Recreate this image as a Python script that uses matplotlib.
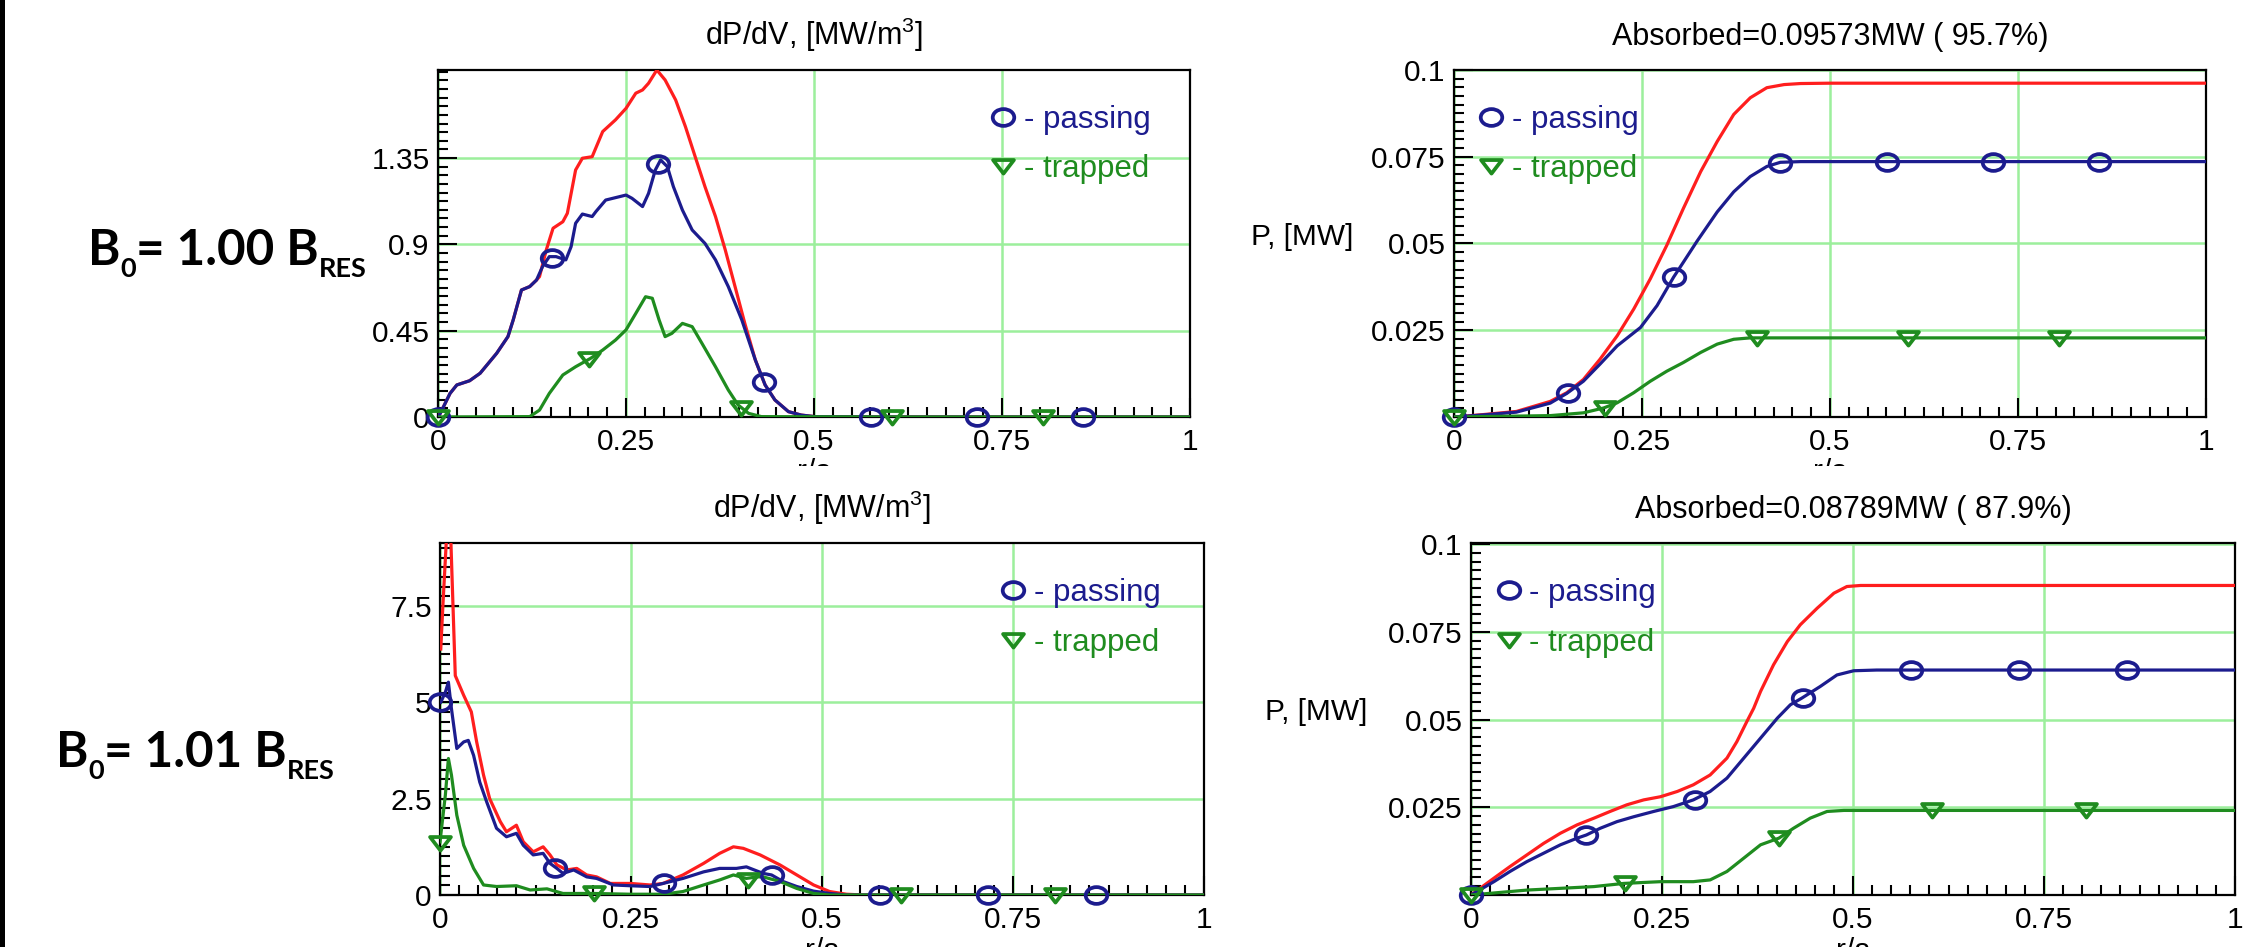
import matplotlib
matplotlib.use("Agg")
import matplotlib.pyplot as plt
from matplotlib.lines import Line2D
from matplotlib.path import Path
from matplotlib.patches import Rectangle
from matplotlib.ticker import MultipleLocator

plt.rcParams['font.family'] = ['Liberation Sans', 'DejaVu Sans']
plt.rcParams['mathtext.fontset'] = 'custom'
plt.rcParams['mathtext.rm'] = 'Liberation Sans'
plt.rcParams['mathtext.it'] = 'Liberation Sans:italic'
plt.rcParams['mathtext.bf'] = 'Liberation Sans:bold'

W, H = 2266, 947
RED = '#ff1e1e'
NAVY = '#1c1c8e'
GREEN = '#1f8c1f'
GRID = '#9cef9c'

# ---------------------------------------------------------------- data
x_ticks = [0, 0.25, 0.5, 0.75, 1]
x_tick_labels = ['0', '0.25', '0.5', '0.75', '1']

# B0 = 1.00 BRES, power density
tl_tot_x = [0.0, 0.003, 0.016, 0.025, 0.042, 0.056, 0.078, 0.093, 0.100, 0.111, 0.122, 0.131, 0.135, 0.144,
            0.153, 0.166, 0.172, 0.183, 0.192, 0.205, 0.219, 0.236, 0.250, 0.263, 0.272, 0.280, 0.291, 0.302,
            0.316, 0.329, 0.342, 0.355, 0.369, 0.382, 0.395, 0.408, 0.422, 0.435, 0.448, 0.466, 0.483, 0.501,
            0.6, 0.8, 1.0]
tl_tot_y = [0.0, 0.019, 0.123, 0.167, 0.189, 0.228, 0.332, 0.419, 0.506, 0.662, 0.680, 0.714, 0.732, 0.871,
            0.984, 1.018, 1.062, 1.288, 1.349, 1.357, 1.488, 1.549, 1.609, 1.688, 1.705, 1.740, 1.809, 1.757,
            1.653, 1.514, 1.357, 1.201, 1.045, 0.871, 0.680, 0.488, 0.297, 0.167, 0.089, 0.028, 0.010, 0.002,
            0.0, 0.0, 0.0]
tl_pass_x = [0.0, 0.003, 0.016, 0.025, 0.042, 0.056, 0.078, 0.093, 0.100, 0.111, 0.122, 0.131, 0.139, 0.148,
             0.157, 0.170, 0.177, 0.183, 0.192, 0.205, 0.210, 0.223, 0.250, 0.258, 0.272, 0.280, 0.289, 0.296,
             0.305, 0.313, 0.325, 0.338, 0.355, 0.369, 0.386, 0.404, 0.422, 0.435, 0.448, 0.466, 0.483, 0.501,
             0.6, 0.8, 1.0]
tl_pass_y = [0.0, 0.019, 0.123, 0.167, 0.189, 0.228, 0.332, 0.419, 0.506, 0.662, 0.680, 0.714, 0.784, 0.836,
             0.836, 0.819, 0.888, 1.010, 1.058, 1.045, 1.071, 1.131, 1.157, 1.140, 1.097, 1.166, 1.288, 1.340,
             1.305, 1.201, 1.079, 0.975, 0.905, 0.819, 0.680, 0.506, 0.297, 0.167, 0.089, 0.028, 0.010, 0.002,
             0.0, 0.0, 0.0]
tl_trap_x = [0.0, 0.122, 0.135, 0.148, 0.166, 0.183, 0.203, 0.219, 0.236, 0.250, 0.263, 0.276, 0.285, 0.294,
             0.302, 0.311, 0.325, 0.338, 0.351, 0.369, 0.386, 0.399, 0.413, 0.430, 0.6, 0.8, 1.0]
tl_trap_y = [0.0, 0.002, 0.036, 0.123, 0.219, 0.262, 0.306, 0.349, 0.401, 0.454, 0.540, 0.627, 0.619, 0.506,
             0.419, 0.436, 0.488, 0.471, 0.384, 0.262, 0.141, 0.063, 0.019, 0.002, 0.0, 0.0, 0.0]

# B0 = 1.00 BRES, integrated power
tr_tot_x = [0.0, 0.039, 0.083, 0.128, 0.150, 0.172, 0.194, 0.217, 0.239, 0.261, 0.283, 0.305, 0.328, 0.350,
            0.372, 0.394, 0.416, 0.439, 0.461, 0.5, 0.75, 1.0]
tr_tot_y = [0.0, 0.0007, 0.0016, 0.0045, 0.0070, 0.0108, 0.0166, 0.0234, 0.0311, 0.0398, 0.0495, 0.0601,
            0.0707, 0.0794, 0.0872, 0.0920, 0.0949, 0.0958, 0.0961, 0.0962, 0.0962, 0.0962]
tr_pass_x = [0.0, 0.039, 0.083, 0.128, 0.150, 0.172, 0.194, 0.217, 0.248, 0.270, 0.292, 0.305, 0.323, 0.350,
             0.372, 0.394, 0.416, 0.434, 0.461, 0.5, 0.75, 1.0]
tr_pass_y = [0.0, 0.0006, 0.0014, 0.0040, 0.0068, 0.0103, 0.0152, 0.0205, 0.0258, 0.0321, 0.0403, 0.0446,
             0.0506, 0.0591, 0.0649, 0.0693, 0.0722, 0.0734, 0.0736, 0.0736, 0.0736, 0.0736]
tr_trap_x = [0.0, 0.128, 0.172, 0.199, 0.217, 0.239, 0.261, 0.283, 0.305, 0.328, 0.350, 0.372, 0.394, 0.5,
             0.75, 1.0]
tr_trap_y = [0.0, 0.0004, 0.0012, 0.0026, 0.0041, 0.0070, 0.0103, 0.0132, 0.0157, 0.0186, 0.0210, 0.0224,
             0.0228, 0.0228, 0.0228, 0.0228]

# B0 = 1.01 BRES, power density
bl_tot_x = [0.001, 0.004, 0.011, 0.014, 0.020, 0.031, 0.041, 0.048, 0.057, 0.065, 0.079, 0.087, 0.100, 0.109,
            0.122, 0.135, 0.144, 0.153, 0.166, 0.179, 0.192, 0.205, 0.223, 0.249, 0.275, 0.292, 0.318, 0.345,
            0.366, 0.384, 0.397, 0.419, 0.445, 0.467, 0.489, 0.510, 0.532, 0.554, 0.75, 1.0]
bl_tot_y = [6.38, 7.59, 10.2, 9.32, 5.69, 5.18, 4.75, 3.97, 3.11, 2.50, 1.90, 1.64, 1.81, 1.38,
            1.12, 1.25, 1.04, 0.78, 0.65, 0.69, 0.52, 0.47, 0.30, 0.30, 0.26, 0.30, 0.52, 0.82,
            1.08, 1.25, 1.21, 1.04, 0.78, 0.52, 0.26, 0.09, 0.02, 0.0, 0.0, 0.0]
bl_pass_x = [0.001, 0.007, 0.011, 0.015, 0.022, 0.031, 0.037, 0.044, 0.052, 0.061, 0.074, 0.087, 0.100, 0.109,
             0.122, 0.135, 0.144, 0.153, 0.161, 0.175, 0.192, 0.205, 0.227, 0.249, 0.275, 0.292, 0.318, 0.345,
             0.366, 0.388, 0.401, 0.423, 0.434, 0.449, 0.467, 0.489, 0.510, 0.532, 0.75, 1.0]
bl_pass_y = [5.00, 5.26, 5.52, 4.83, 3.80, 3.97, 4.01, 3.62, 2.93, 2.42, 1.73, 1.51, 1.60, 1.29,
             1.04, 1.08, 0.82, 0.69, 0.56, 0.65, 0.47, 0.43, 0.26, 0.24, 0.22, 0.30, 0.43, 0.60,
             0.69, 0.69, 0.73, 0.56, 0.52, 0.35, 0.22, 0.10, 0.04, 0.0, 0.0, 0.0]
bl_trap_x = [0.0, 0.007, 0.011, 0.015, 0.022, 0.031, 0.044, 0.057, 0.074, 0.100, 0.118, 0.140, 0.161, 0.201,
             0.249, 0.292, 0.318, 0.345, 0.366, 0.384, 0.401, 0.415, 0.423, 0.445, 0.467, 0.489, 0.510, 0.75, 1.0]
bl_trap_y = [1.38, 2.59, 3.54, 3.11, 2.07, 1.29, 0.69, 0.26, 0.22, 0.24, 0.13, 0.16, 0.04, 0.04,
             0.02, 0.02, 0.09, 0.26, 0.39, 0.52, 0.43, 0.47, 0.47, 0.35, 0.17, 0.04, 0.0, 0.0, 0.0]

# B0 = 1.01 BRES, integrated power
br_tot_x = [0.0, 0.030, 0.051, 0.073, 0.095, 0.117, 0.139, 0.161, 0.182, 0.204, 0.226, 0.248, 0.270, 0.291,
            0.313, 0.335, 0.348, 0.361, 0.370, 0.379, 0.396, 0.414, 0.431, 0.453, 0.475, 0.492, 0.510, 0.75, 1.0]
br_tot_y = [0.0, 0.0048, 0.0081, 0.0114, 0.0147, 0.0176, 0.0200, 0.0219, 0.0238, 0.0257, 0.0271, 0.0280,
            0.0295, 0.0314, 0.0342, 0.0390, 0.0437, 0.0494, 0.0532, 0.0580, 0.0656, 0.0722, 0.0770, 0.0817,
            0.0860, 0.0879, 0.0882, 0.0882, 0.0882]
br_pass_x = [0.0, 0.030, 0.051, 0.073, 0.095, 0.117, 0.139, 0.151, 0.169, 0.191, 0.213, 0.239, 0.265, 0.291,
             0.313, 0.335, 0.357, 0.379, 0.401, 0.418, 0.433, 0.457, 0.479, 0.501, 0.531, 0.75, 1.0]
br_pass_y = [0.0, 0.0038, 0.0067, 0.0095, 0.0119, 0.0143, 0.0162, 0.0171, 0.0190, 0.0209, 0.0223, 0.0238,
             0.0252, 0.0271, 0.0295, 0.0333, 0.0390, 0.0447, 0.0504, 0.0542, 0.0561, 0.0594, 0.0627, 0.0639,
             0.0641, 0.0641, 0.0641]
br_trap_x = [0.0, 0.073, 0.161, 0.200, 0.248, 0.291, 0.313, 0.335, 0.357, 0.379, 0.403, 0.422, 0.444, 0.466,
             0.488, 0.75, 1.0]
br_trap_y = [0.0, 0.0014, 0.0024, 0.0033, 0.0038, 0.0038, 0.0043, 0.0067, 0.0105, 0.0143, 0.0162, 0.0190,
             0.0219, 0.0238, 0.0241, 0.0241, 0.0241]

# marker positions along the curves
pass_mark_x = [0.0, 0.151, 0.293, 0.434, 0.576, 0.717, 0.858]
trap_mark_x = [0.0, 0.201, 0.403, 0.604, 0.805]
tl_pass_mark = [0.0, 0.83, 1.32, 0.18, 0.0, 0.0, 0.0]
tl_trap_mark = [0.0, 0.30, 0.045, 0.0, 0.0]
tr_pass_mark = [0.0, 0.0068, 0.0403, 0.0732, 0.0736, 0.0736, 0.0736]
tr_trap_mark = [0.0, 0.0026, 0.0228, 0.0228, 0.0228]
bl_pass_mark = [5.0, 0.69, 0.30, 0.52, 0.0, 0.0, 0.0]
bl_trap_mark = [1.34, 0.04, 0.38, 0.0, 0.0]
br_pass_mark = [0.0, 0.0171, 0.0271, 0.0561, 0.0641, 0.0641, 0.0641]
br_trap_mark = [0.0, 0.0033, 0.0162, 0.0241, 0.0241]

# ---------------------------------------------------------------- markers
circ = Path.unit_circle()
ELL = Path(circ.vertices * [1.0, 0.78], circ.codes)
TRI = Path([(-1, 0.62), (1, 0.62), (0, -0.68), (-1, 0.62)],
           [Path.MOVETO, Path.LINETO, Path.LINETO, Path.CLOSEPOLY])
mk_pass = dict(ls='none', marker=ELL, ms=15.5, mfc='none', mec=NAVY, mew=2.7)
mk_trap = dict(ls='none', marker=TRI, ms=15, mfc='none', mec=GREEN, mew=2.7)

fig = plt.figure(figsize=(W / 100, H / 100), dpi=100)


def px_axes(l, t, r, b):
    return fig.add_axes([l / W, 1 - b / H, (r - l) / W, (b - t) / H])


def panel(ax, tot, pas, trap, pmark, tmark, ymax, yticks, ylabels, yminor, title, leg_x, ylabel=None):
    ax.plot(tot[0], tot[1], color=RED, lw=2.3, zorder=3)
    ax.plot(pas[0], pas[1], color=NAVY, lw=2.3, zorder=4)
    ax.plot(trap[0], trap[1], color=GREEN, lw=2.3, zorder=5)
    ax.plot(pass_mark_x, pmark, clip_on=False, zorder=6, **mk_pass)
    ax.plot(trap_mark_x, tmark, clip_on=False, zorder=6, **mk_trap)

    ax.set_xlim(0, 1)
    ax.set_ylim(0, ymax)
    ax.set_xticks(x_ticks)
    ax.set_xticklabels(x_tick_labels)
    ax.set_yticks(yticks)
    ax.set_yticklabels(ylabels)
    ax.xaxis.set_minor_locator(MultipleLocator(0.025))
    ax.yaxis.set_minor_locator(MultipleLocator(yminor))
    ax.tick_params(which='both', direction='in', top=False, right=False, width=1.5, labelsize=21.5)
    ax.tick_params(which='major', length=14)
    ax.tick_params(which='minor', length=7)
    ax.tick_params(axis='x', pad=8)
    ax.tick_params(axis='y', pad=6)
    ax.grid(True, which='major', color=GRID, lw=1.8)
    ax.set_axisbelow(True)
    for s in ax.spines.values():
        s.set_linewidth(1.6)

    ax.set_title(title, fontsize=22, pad=18)
    ax.set_xlabel('r/a', fontsize=21.5)
    ax.xaxis.set_label_coords(0.5, -0.118)
    if ylabel:
        ax.set_ylabel(ylabel, rotation=0, fontsize=21.5, ha='center', va='center')
        ax.yaxis.set_label_coords(-0.202, 0.519)

    handles = [Line2D([], [], **mk_pass), Line2D([], [], **mk_trap)]
    leg = ax.legend(handles, ['- passing', '- trapped'], loc='upper left', bbox_to_anchor=(leg_x, 0.90),
                    frameon=False, fontsize=22.5, handlelength=0.8, handletextpad=0.25, labelspacing=0.62,
                    borderpad=0, borderaxespad=0)
    for txt, c in zip(leg.get_texts(), [NAVY, GREEN]):
        txt.set_color(c)


ax_tl = px_axes(438, 70, 1190, 417)
ax_tr = px_axes(1454, 70, 2206, 417)
ax_bl = px_axes(440, 543, 1204, 895)
ax_br = px_axes(1471, 543, 2235, 895)

panel(ax_tl, (tl_tot_x, tl_tot_y), (tl_pass_x, tl_pass_y), (tl_trap_x, tl_trap_y), tl_pass_mark, tl_trap_mark,
      1.809, [0, 0.45, 0.9, 1.35], ['0', '0.45', '0.9', '1.35'], 0.045, 'dP/dV, [MW/m$^3$]', 0.735)
panel(ax_tr, (tr_tot_x, tr_tot_y), (tr_pass_x, tr_pass_y), (tr_trap_x, tr_trap_y), tr_pass_mark, tr_trap_mark,
      0.1, [0.025, 0.05, 0.075, 0.1], ['0.025', '0.05', '0.075', '0.1'], 0.0025,
      'Absorbed=0.09573MW ( 95.7%)', 0.033, ylabel='P, [MW]')
panel(ax_bl, (bl_tot_x, bl_tot_y), (bl_pass_x, bl_pass_y), (bl_trap_x, bl_trap_y), bl_pass_mark, bl_trap_mark,
      9.13, [0, 2.5, 5, 7.5], ['0', '2.5', '5', '7.5'], 0.25, 'dP/dV, [MW/m$^3$]', 0.734)
panel(ax_br, (br_tot_x, br_tot_y), (br_pass_x, br_pass_y), (br_trap_x, br_trap_y), br_pass_mark, br_trap_mark,
      0.1003, [0.025, 0.05, 0.075, 0.1], ['0.025', '0.05', '0.075', '0.1'], 0.0025,
      'Absorbed=0.08789MW ( 87.9%)', 0.033, ylabel='P, [MW]')

# the upper "r/a" labels are hidden by the lower panels in the original
fig.add_artist(Rectangle((10 / W, 1 - 483 / H), 1 - 10 / W, 17 / H, transform=fig.transFigure,
                         facecolor='white', edgecolor='none', zorder=20))
fig.add_artist(Rectangle((0, 0), 5 / W, 1, transform=fig.transFigure,
                         facecolor='black', edgecolor='none', zorder=21))

# B0 labels built from pieces so the subscripts sit right
renderer = fig.canvas.get_renderer()


def b_label(x_px, base_px, value):
    parts = [('B', 35.5, 0), ('0', 19.5, 12), ('= ' + value + ' B', 35.5, 0), ('RES', 19.5, 12)]
    x = x_px
    for s, size, drop in parts:
        t = fig.text(x / W, 1 - (base_px + drop) / H, s, fontsize=size, fontweight='bold',
                     family=['Lato', 'DejaVu Sans'], va='baseline', ha='left')
        x = t.get_window_extent(renderer).x1


b_label(88, 265, '1.00')
b_label(56, 767, '1.01')

fig.savefig('out.png', dpi=100)
